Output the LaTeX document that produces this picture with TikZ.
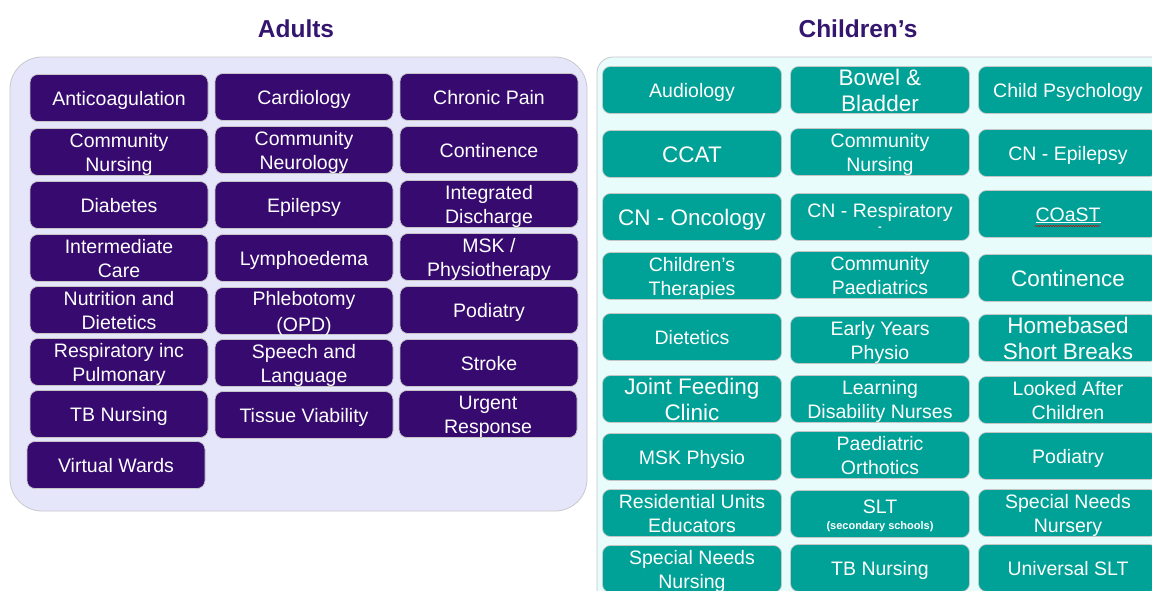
\documentclass[tikz,border=0pt]{standalone}
\usepackage{fontspec}
\setmainfont{Liberation Sans}
\usetikzlibrary{decorations.pathmorphing}

\definecolor{adultPurple}{RGB}{54,10,110}
\definecolor{childTeal}{RGB}{0,161,150}
\definecolor{adultBack}{RGB}{230,230,250}
\definecolor{childBack}{RGB}{232,252,252}
\definecolor{titlePurple}{RGB}{52,22,110}
\definecolor{panelEdge}{RGB}{200,200,206}

\newcommand{\boxWidth}{178pt}
\newcommand{\boxHeight}{47pt}
\newcommand{\normalText}{\fontsize{19.5}{24}\selectfont}
\newcommand{\bigText}{\fontsize{22.5}{26}\selectfont}
\newcommand{\tinyText}{\fontsize{11}{12}\selectfont\bfseries}
\newcommand{\topStrut}[1]{\rule{0pt}{#1}}

\tikzset{
  service/.style={rectangle, rounded corners=8pt, draw=gray!45, line width=0.7pt,
    text=white, align=center, minimum width=\boxWidth, minimum height=\boxHeight,
    inner xsep=0pt, inner ysep=-4pt, font=\normalText,
    execute at begin node={\topStrut{19pt}},
    execute at end node={\rule[-5pt]{0pt}{5pt}}},
  adultBox/.style={service, fill=adultPurple},
  childBox/.style={service, fill=childTeal, minimum width=179pt},
  twoLines/.style={execute at begin node={\topStrut{43pt}}},
  bigLabel/.style={font=\bigText, execute at begin node={\topStrut{22pt}},
    execute at end node={\rule[-5.9pt]{0pt}{5.9pt}}},
  bigTwoLines/.style={bigLabel, execute at begin node={\topStrut{48pt}}},
  heading/.style={font=\fontsize{24.5}{28}\selectfont\bfseries, text=titlePurple},
  squiggle/.style={red!80!black, line width=0.5pt, decorate,
    decoration={snake, amplitude=0.6pt, segment length=2.5pt}}
}

\begin{document}
\begin{tikzpicture}[x=1pt, y=-1pt]
  \clip (0,0) rectangle (1152,590);
  \fill[white] (0,0) rectangle (1152,590);

  % panels
  \filldraw[fill=adultBack, draw=panelEdge, line width=0.8pt, rounded corners=32pt]
    (10,57) rectangle (587,511);
  \filldraw[fill=childBack, draw=panelEdge, line width=0.8pt, rounded corners=16pt]
    (597,57) rectangle (1200,640);

  \node[heading] (adultsTitle) at (296,29) {Adults};
  \node[heading] (childrenTitle) at (858,29) {Children’s};

  % adults
  \node[adultBox] (adultAnticoag) at (119,98) {Anticoagulation};
  \node[adultBox] (adultCardio) at (304,97) {Cardiology};
  \node[adultBox] (adultPain) at (489,97) {Chronic Pain};
  \node[adultBox, twoLines] (adultCommNursing) at (119,152) {Community\\Nursing};
  \node[adultBox, twoLines] (adultNeuro) at (304,150) {Community\\Neurology};
  \node[adultBox] (adultContinence) at (489,150) {Continence};
  \node[adultBox] (adultDiabetes) at (119,205) {Diabetes};
  \node[adultBox] (adultEpilepsy) at (304,205) {Epilepsy};
  \node[adultBox, twoLines] (adultDischarge) at (489,204) {Integrated\\Discharge};
  \node[adultBox, twoLines] (adultInterCare) at (119,258) {Intermediate\\Care};
  \node[adultBox] (adultLymph) at (304,258) {Lymphoedema};
  \node[adultBox, twoLines] (adultMSK) at (489,257) {MSK /\\Physiotherapy};
  \node[adultBox, twoLines] (adultNutrition) at (119,310) {Nutrition and\\Dietetics};
  \node[adultBox, twoLines, execute at begin node={\topStrut{45pt}}] (adultPhleb) at (304,311) {Phlebotomy\\[2pt](OPD)};
  \node[adultBox] (adultPodiatry) at (489,310) {Podiatry};
  \node[adultBox, twoLines] (adultResp) at (119,362) {Respiratory inc\\Pulmonary};
  \node[adultBox, twoLines] (adultSpeech) at (304,363) {Speech and\\Language};
  \node[adultBox] (adultStroke) at (489,363) {Stroke};
  \node[adultBox] (adultTB) at (119,414) {TB Nursing};
  \node[adultBox] (adultTissue) at (304,415) {Tissue Viability};
  \node[adultBox, twoLines] (adultUrgent) at (488,414) {Urgent\\Response};
  \node[adultBox] (adultVirtual) at (116,465) {Virtual Wards};

  % children
  \node[childBox] (childAudiology) at (692,90) {Audiology};
  \node[childBox, bigTwoLines] (childBowel) at (880,90) {Bowel \&\\Bladder};
  \node[childBox] (childPsych) at (1068,90) {Child Psychology};
  \node[childBox, bigLabel] (childCCAT) at (692,154) {CCAT};
  \node[childBox, twoLines] (childCommNursing) at (880,152) {Community\\Nursing};
  \node[childBox] (childEpilepsy) at (1068,153) {CN - Epilepsy};
  \node[childBox, bigLabel] (childOncology) at (692,217) {CN - Oncology};
  \node[childBox, execute at begin node={\topStrut{31.5pt}}] (childResp) at (880,217) {CN - Respiratory\\[-11.5pt]{\tinyText -}};
  \node[childBox] (childCOaST) at (1068,214) {\underline{COaST}};
  \node[childBox, twoLines] (childTherapies) at (692,276) {Children’s\\Therapies};
  \node[childBox, twoLines] (childPaeds) at (880,275) {Community\\Paediatrics};
  \node[childBox, bigLabel] (childContinence) at (1068,278) {Continence};
  \node[childBox] (childDietetics) at (692,337) {Dietetics};
  \node[childBox, twoLines] (childEarlyYears) at (880,340) {Early Years\\Physio};
  \node[childBox, bigTwoLines] (childBreaks) at (1068,338) {Homebased\\Short Breaks};
  \node[childBox, bigTwoLines] (childFeeding) at (692,399) {Joint Feeding\\Clinic};
  \node[childBox, twoLines] (childLDNurses) at (880,399) {Learning\\Disability Nurses};
  \node[childBox, twoLines] (childLAC) at (1068,400) {Looked After\\Children};
  \node[childBox] (childMSK) at (692,457) {MSK Physio};
  \node[childBox, twoLines] (childOrthotics) at (880,455) {Paediatric\\Orthotics};
  \node[childBox] (childPodiatry) at (1068,456) {Podiatry};
  \node[childBox, twoLines] (childResidential) at (692,513) {Residential Units\\Educators};
  \node[childBox, execute at begin node={\topStrut{35pt}}] (childSLT) at (880,514) {SLT\\[-8pt]{\tinyText (secondary schools)}};
  \node[childBox, twoLines] (childNursery) at (1068,513) {Special Needs\\Nursery};
  \node[childBox, twoLines] (childSNNursing) at (692,569) {Special Needs\\Nursing};
  \node[childBox] (childTB) at (880,568) {TB Nursing};
  \node[childBox] (childUniversal) at (1068,568) {Universal SLT};

  \draw[squiggle] ([xshift=-33pt,yshift=-12pt]childCOaST.center)
    -- ([xshift=32pt,yshift=-12pt]childCOaST.center);
\end{tikzpicture}
\end{document}
